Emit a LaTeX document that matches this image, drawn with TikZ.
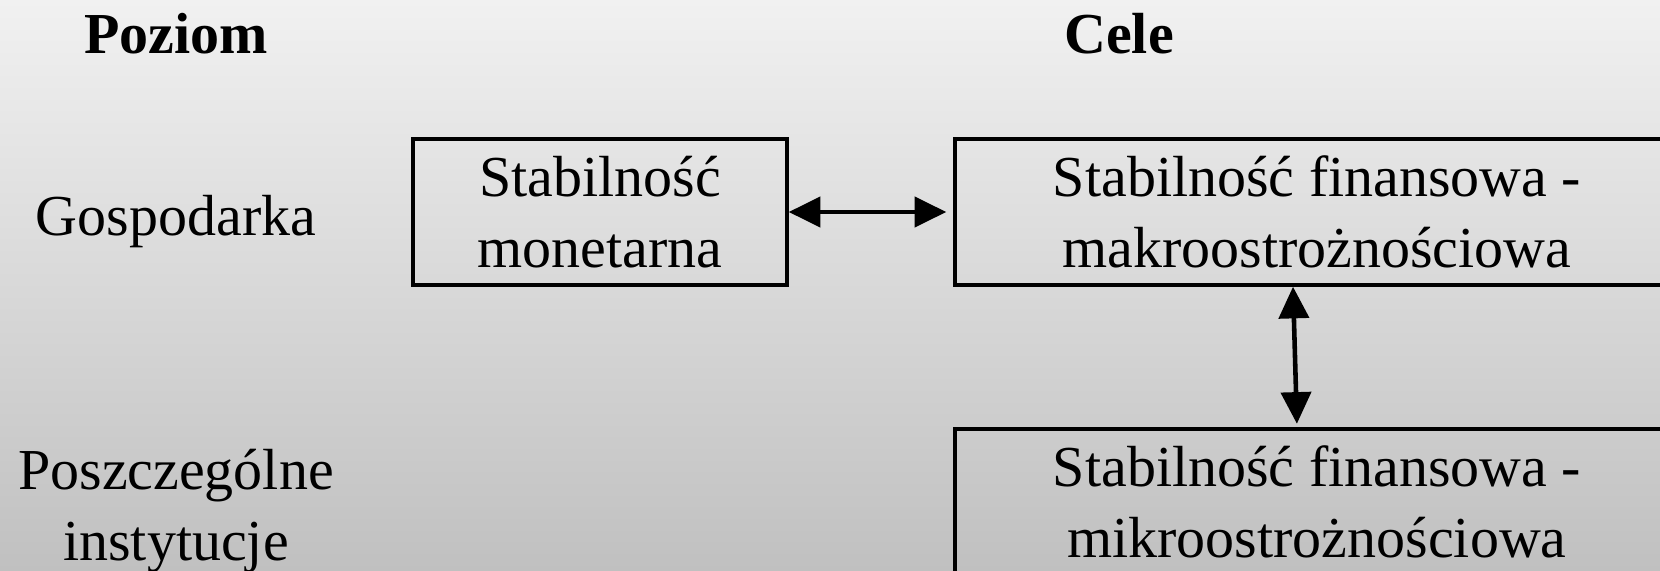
\documentclass[tikz,border=0pt]{standalone}
\usepackage{fontspec}
\setmainfont{Liberation Serif}
\usetikzlibrary{arrows.meta}
\definecolor{tlogora}{RGB}{241,241,241}
\definecolor{tlodol}{RGB}{192,192,192}

\begin{document}
\begin{tikzpicture}[x=0.02cm,y=-0.02cm,
  napis/.style={align=center,font=\fontsize{33}{40}\selectfont},
  ramka/.style={napis,draw,line width=2pt,inner sep=0pt},
  dwa/.style={{Triangle[length=18pt,width=17pt]}-{Triangle[length=18pt,width=17pt]},line width=2.6pt}]
\shade[top color=tlogora,bottom color=tlodol] (0,0) rectangle (1660,571);
\useasboundingbox (0,0) rectangle (1660,571);
\clip (0,0) rectangle (1660,571);
% naglowki
\node [napis,font=\fontsize{33}{40}\selectfont\bfseries] (poziom) at (176,34) {Poziom};
\node [napis,font=\fontsize{33}{40}\selectfont\bfseries] (cele) at (1119,34) {Cele};
% poziomy
\node [napis] (gosp) at (176,222) {Gospodarka};
\node [napis] (inst) at (176,511) {Poszczególne\\instytucje};
% cele
\node [ramka,minimum width=7.48cm,minimum height=2.92cm] (monet) at (600,212) {Stabilność\\monetarna};
\node [ramka,minimum width=14.48cm,minimum height=2.92cm] (makro) at (1317,212) {Stabilność finansowa -\\makroostrożnościowa};
\node [ramka,minimum width=14.48cm,minimum height=2.92cm] (mikro) at (1317,502) {Stabilność finansowa -\\mikroostrożnościowa};
\draw [dwa,shorten >=4pt] (monet) -- (makro);
\draw [dwa,shorten >=2pt] ([xshift=-0.48cm]makro.south) -- ([xshift=-0.40cm]mikro.north);
\end{tikzpicture}
\end{document}
